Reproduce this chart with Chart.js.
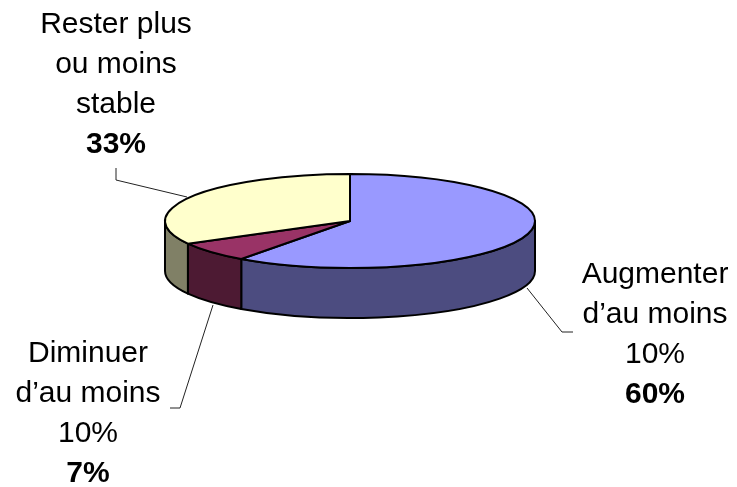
<!DOCTYPE html>
<html>
<head>
<meta charset="utf-8">
<script src="https://cdn.jsdelivr.net/npm/chart.js@4/dist/chart.umd.min.js"></script>
<style>
  html, body { margin:0; padding:0; background:#fff; }
  #wrap { width:737px; height:487px; position:relative; }
</style>
</head>
<body>
<div id="wrap"><canvas id="pie3d"></canvas></div>
<script>
// data
const categories = ['Augmenter d’au moins 10%', 'Diminuer d’au moins 10%', 'Rester plus ou moins stable'];
const values = [60, 7, 33];
const labelLines = [
  ['Augmenter', 'd’au moins', '10%'],
  ['Diminuer', 'd’au moins', '10%'],
  ['Rester plus', 'ou moins', 'stable']
];
const pctLabels = ['60%', '7%', '33%'];
const topColors = ['#9999FF', '#993366', '#FFFFCC'];
const sideColors = ['#4C4C80', '#4D1A33', '#808066'];

// look of the fake 3d
const tilt = 0.254;   // ry / rx
const depth = 50;     // wall height in px

// label spots (center x, first baseline) + leader lines, per slice
const labelPos = [
  { x: 655, y: 283, line: [[527,288],[562,332],[573,332]] },
  { x: 88,  y: 362, line: [[213,305],[180,408],[170,408]] },
  { x: 116, y: 33,  line: [[187,197],[116,180],[116,168]] }
];

function clipFront(a1, a2){
  // pieces of [a1,a2] that sit on the front half (0..PI, or 2PI..3PI)
  const out = [];
  [[0, Math.PI],[2*Math.PI, 3*Math.PI]].forEach(([lo, hi]) => {
    const s = Math.max(a1, lo), e = Math.min(a2, hi);
    if (e > s) out.push([s, e]);
  });
  return out;
}

const pie3d = {
  id: 'pie3d',
  beforeDatasetsDraw(chart){
    const ctx = chart.ctx;
    const arcs = chart.getDatasetMeta(0).data;
    if (!arcs.length) return false;
    const cx = arcs[0].x, cy = arcs[0].y;
    const rx = arcs[0].outerRadius, ry = rx * tilt;

    ctx.save();
    ctx.lineJoin = 'round';
    ctx.strokeStyle = '#000';
    ctx.lineWidth = 2;

    // walls
    arcs.forEach((arc, i) => {
      clipFront(arc.startAngle, arc.endAngle).forEach(([s, e]) => {
        ctx.beginPath();
        ctx.ellipse(cx, cy, rx, ry, 0, s, e);
        ctx.lineTo(cx + rx * Math.cos(e), cy + ry * Math.sin(e) + depth);
        ctx.ellipse(cx, cy + depth, rx, ry, 0, e, s, true);
        ctx.closePath();
        ctx.fillStyle = sideColors[i];
        ctx.fill();
        ctx.stroke();
      });
    });

    // top faces
    arcs.forEach((arc, i) => {
      ctx.beginPath();
      ctx.moveTo(cx, cy);
      ctx.ellipse(cx, cy, rx, ry, 0, arc.startAngle, arc.endAngle);
      ctx.closePath();
      ctx.fillStyle = topColors[i];
      ctx.fill();
      ctx.stroke();
    });

    // leader lines
    ctx.lineWidth = 1;
    ctx.strokeStyle = '#222';
    labelPos.forEach(p => {
      ctx.beginPath();
      p.line.forEach((pt, k) => k ? ctx.lineTo(pt[0], pt[1]) : ctx.moveTo(pt[0], pt[1]));
      ctx.stroke();
    });

    // labels
    ctx.fillStyle = '#000';
    ctx.textAlign = 'center';
    ctx.textBaseline = 'alphabetic';
    labelPos.forEach((p, i) => {
      ctx.font = '30px "Liberation Sans", Arial, sans-serif';
      const lines = labelLines[i];
      lines.forEach((t, k) => ctx.fillText(t, p.x, p.y + k * 40));
      ctx.font = 'bold 30px "Liberation Sans", Arial, sans-serif';
      ctx.fillText(pctLabels[i], p.x, p.y + lines.length * 40);
    });
    ctx.restore();
    return false;
  }
};

new Chart(document.getElementById('pie3d'), {
  type: 'pie',
  data: {
    labels: categories,
    datasets: [{ data: values, backgroundColor: topColors, borderWidth: 0 }]
  },
  options: {
    responsive: true,
    maintainAspectRatio: false,
    animation: false,
    layout: { padding: { left: 165, right: 202, top: 36, bottom: 81 } },
    plugins: { legend: { display: false }, tooltip: { enabled: false } }
  },
  plugins: [pie3d]
});
</script>
</body>
</html>
